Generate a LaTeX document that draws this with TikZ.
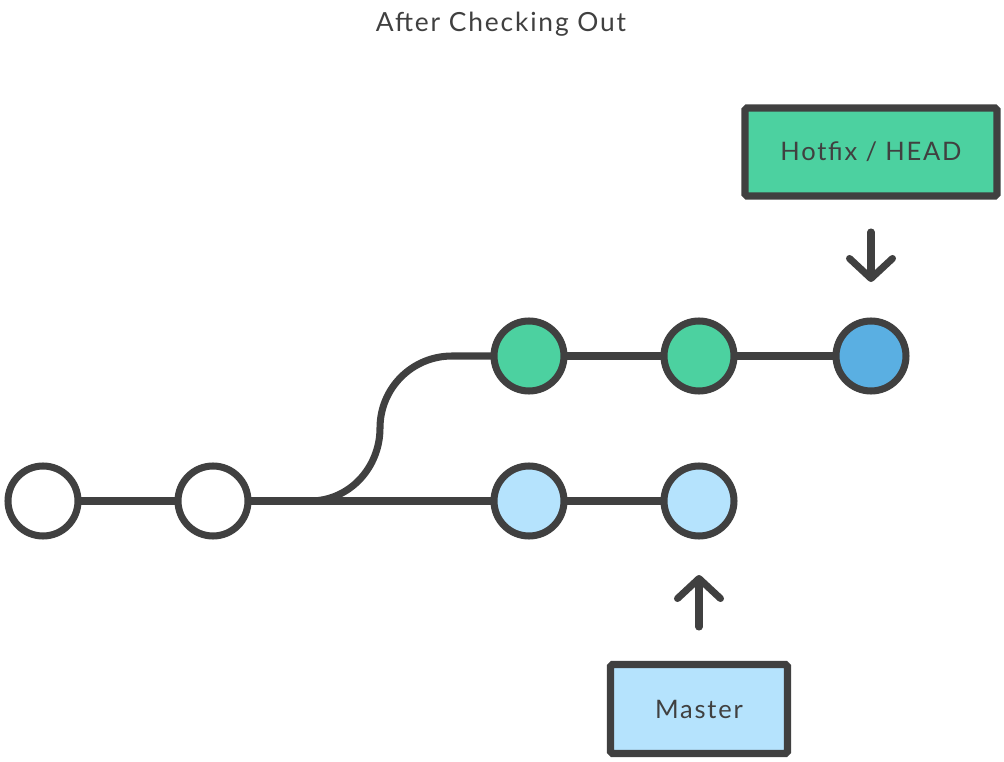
\documentclass[tikz,border=0pt]{standalone}
\usepackage{fontspec}
\setmainfont{Lato}[LetterSpace=7]
\usepackage{xcolor}
\usepackage{tikz}
\usetikzlibrary{arrows.meta, positioning}

\definecolor{ink}{HTML}{404040}
\definecolor{hotgreen}{HTML}{4CD1A0}
\definecolor{paleblue}{HTML}{B5E3FD}
\definecolor{headblue}{HTML}{5AAFE2}

\begin{document}
\begin{tikzpicture}[
    node distance=1.5cm and 2cm,
    every node/.style={outer sep=0pt},
    commit/.style={circle, draw=ink, line width=4pt, minimum size=1.4cm, inner sep=0pt, fill=white},
    label box/.style={rectangle, draw=ink, line width=4pt, rounded corners=1pt, text=ink, font=\fontsize{14.5}{17}\selectfont},
    edge/.style={draw=ink, line width=4pt},
    pointer/.style={-{Straight Barb[length=4mm, width=8.6mm, round]}, draw=ink, line width=4pt, line cap=round},
]
\useasboundingbox (0,0) rectangle (20.08,-15.24);

% Title
\node[text=ink, font=\fontsize{15}{18}\selectfont] (title) at (10.02,-0.48) {After Checking Out};

% Nodes
\node[commit] (c1) at (0.86,-10.02) {};
\node[commit, right=of c1] (c2) {};
\node[commit, fill=paleblue, right=4.92cm of c2] (c3) {};
\node[commit, fill=paleblue, right=of c3] (c4) {};

\node[commit, fill=hotgreen, above=of c3] (g1) {};
\node[commit, fill=hotgreen, right=of g1] (g2) {};
\node[commit, fill=headblue, right=2.04cm of g2] (head) {};

\node[label box, fill=hotgreen, minimum width=5.04cm, minimum height=1.76cm, above=2.5cm of head] (hotfix) {Hotfix / HEAD};
\node[label box, fill=paleblue, minimum width=3.54cm, minimum height=1.78cm, below=2.57cm of c4] (master) {Master};

% Branch curve
\coordinate (fork) at (6.2,-10.02);
\coordinate (bend) at (7.6,-8.56);
\coordinate (join) at (9.04,-7.12);

% Edges
\draw[edge] (c1) -- (c2);
\draw[edge] (c2) -- (c3);
\draw[edge] (c3) -- (c4);
\draw[edge] (g1) -- (g2);
\draw[edge] (g2) -- (head);
\draw[edge] (fork) to[out=0, in=-90] (bend) to[out=90, in=180] (join) -- (g1);

% Arrows
\draw[pointer, shorten <=0.72cm, shorten >=0.78cm] (hotfix.south) -- (head.north);
\draw[pointer, shorten <=0.75cm, shorten >=0.78cm] (master.north) -- (c4.south);

\end{tikzpicture}
\end{document}
